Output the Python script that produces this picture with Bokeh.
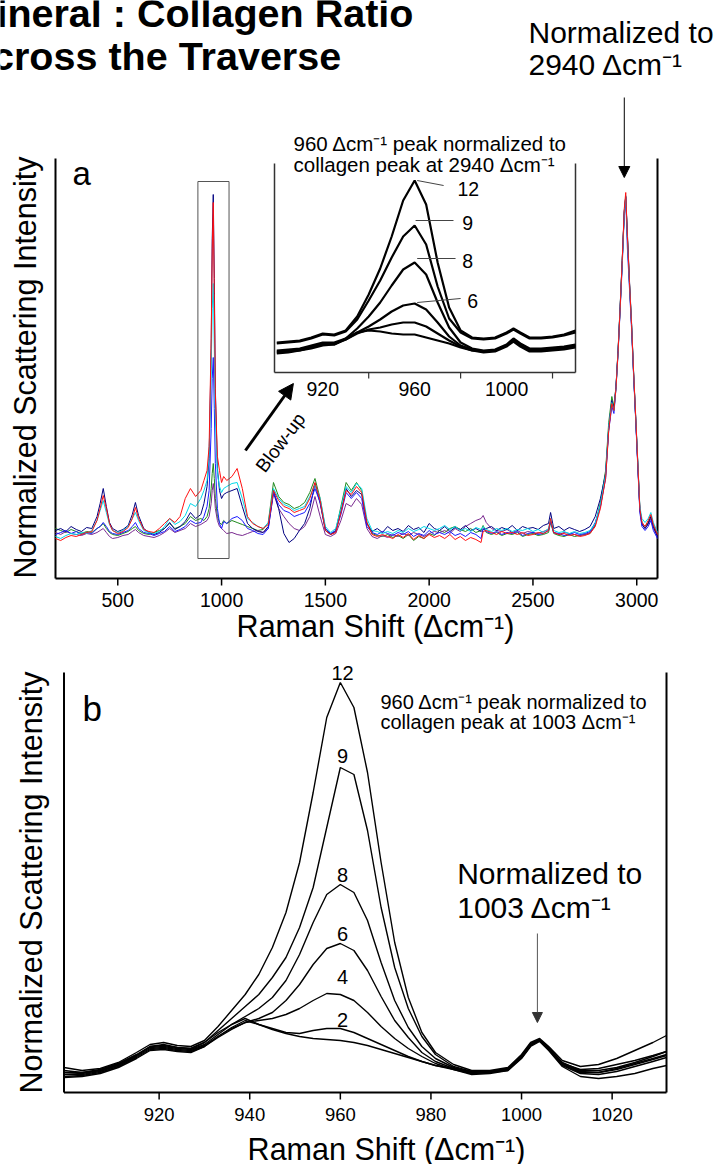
import math
from bokeh.plotting import figure
from bokeh.models import Range1d, Arrow, NormalHead
from bokeh.layouts import column
from bokeh.core.properties import value
from bokeh.embed import file_html
from bokeh.resources import INLINE

# ---------------- DATA ----------------
# Panel a: Raman shift grid (cm-1) and six spectra normalized to 2940 (arbitrary units)
XA = [200, 225, 250, 275, 300, 325, 350, 375, 400,
      415, 430, 445, 460, 475, 500, 525, 550, 570, 585, 600, 625, 650, 675,
      700, 725, 750, 775, 800, 825, 850, 875, 900,
      915, 930, 940, 950, 955, 960, 965, 970, 980, 990, 1000, 1010, 1025,
      1050, 1075, 1100, 1125, 1150, 1175, 1200, 1225, 1250, 1275,
      1300, 1325, 1350, 1375, 1400, 1425, 1450, 1475, 1500, 1525,
      1550, 1575, 1600, 1625, 1650, 1675, 1700, 1725, 1750, 1775,
      1800, 1825, 1850, 1875, 1900, 1925, 1950, 1975, 2000, 2025,
      2050, 2075, 2100, 2125, 2150, 2175, 2200, 2225, 2250,
      2260, 2275, 2300, 2325, 2350, 2375, 2400, 2425, 2450, 2475,
      2500, 2525, 2550, 2575, 2585, 2600, 2625, 2650, 2675, 2700, 2725,
      2750, 2775, 2800, 2825, 2850, 2865, 2880, 2890, 2900,
      2910, 2920, 2930, 2940, 2947, 2955, 2965, 2975, 2985, 2995, 3005, 3015, 3025, 3040, 3055, 3068, 3080, 3100]

A_NAVY = [48, 50, 47, 52, 49, 47, 51, 50, 62,
          75, 90, 72, 56, 50, 47, 49, 53, 64, 76, 63, 50, 46, 44,
          46, 50, 56, 49, 52, 57, 66, 60, 64,
          75, 92, 120, 230, 340, 384, 300, 190, 110, 88, 80, 84, 86,
          88, 90, 72, 55, 50, 47, 46, 52, 88, 70,
          45, 36, 40, 48, 55, 70, 95, 75, 48, 44,
          47, 68, 90, 82, 88, 84, 55, 47, 50, 46,
          52, 48, 50, 47, 53, 49, 51, 46, 55, 50,
          48, 52, 47, 51, 49, 53, 48, 50, 47,
          49, 50, 52, 48, 51, 49, 53, 48, 52, 50,
          51, 49, 53, 55, 66, 50, 52, 48, 51, 49, 47,
          49, 52, 62, 80, 105, 150, 178, 170, 192,
          228, 272, 318, 368, 382, 345, 298, 256, 205, 160, 115, 70, 54, 50, 55, 62, 52, 42]

A_BLUE = [44, 46, 48, 45, 47, 44, 46, 45, 50,
          52, 56, 52, 47, 45, 44, 46, 48, 52, 56, 50, 46, 45, 43,
          45, 47, 52, 47, 49, 52, 58, 55, 56,
          62, 72, 88, 150, 200, 221, 170, 115, 70, 55, 50, 57, 55,
          60, 62, 58, 50, 48, 45, 44, 50, 86, 74,
          68, 66, 62, 64, 66, 75, 90, 76, 50, 45,
          48, 64, 86, 80, 86, 80, 52, 46, 44, 47,
          45, 43, 46, 44, 47, 42, 45, 43, 48, 44,
          46, 44, 47, 43, 45, 42, 46, 44, 40,
          50, 47, 45, 47, 44, 46, 45, 47, 43, 45,
          46, 44, 45, 48, 58, 46, 45, 43, 44, 46, 44,
          45, 47, 56, 72, 100, 148, 172, 165, 190,
          225, 268, 312, 364, 380, 330, 290, 250, 202, 158, 112, 66, 52, 48, 52, 58, 48, 40]

A_CYAN = [42, 40, 43, 45, 44, 46, 45, 48, 58,
          68, 78, 66, 54, 48, 46, 48, 52, 60, 66, 58, 48, 46, 45,
          47, 52, 60, 54, 57, 63, 75, 72, 80,
          88, 98, 125, 210, 270, 295, 230, 160, 105, 92, 86, 90, 92,
          95, 96, 80, 60, 56, 52, 50, 56, 90, 80,
          74, 72, 68, 70, 72, 82, 94, 80, 52, 46,
          50, 70, 92, 86, 95, 90, 60, 48, 47, 45,
          47, 45, 48, 46, 50, 47, 49, 52, 50, 48,
          50, 53, 49, 52, 48, 50, 47, 51, 49,
          52, 49, 47, 50, 48, 50, 47, 49, 48, 50,
          47, 49, 46, 50, 60, 48, 46, 47, 45, 47, 45,
          46, 48, 55, 74, 104, 152, 176, 168, 190,
          226, 270, 316, 366, 383, 340, 295, 255, 206, 162, 118, 72, 60, 56, 60, 66, 56, 46]

A_GREEN = [50, 48, 46, 49, 47, 45, 47, 46, 50,
           52, 55, 50, 46, 44, 43, 45, 47, 50, 52, 48, 45, 44, 46,
           48, 50, 55, 50, 52, 55, 62, 58, 60,
           58, 62, 70, 90, 105, 115, 100, 80, 62, 56, 54, 58, 55,
           58, 56, 54, 52, 50, 48, 49, 56, 96, 82,
           76, 74, 70, 72, 76, 86, 100, 80, 50, 44,
           48, 72, 96, 88, 96, 88, 56, 45, 43, 42,
           44, 41, 43, 40, 44, 38, 42, 40, 45, 43,
           48, 46, 50, 52, 49, 47, 50, 46, 48,
           53, 46, 44, 46, 43, 45, 44, 46, 42, 44,
           45, 43, 44, 46, 56, 45, 43, 42, 44, 42, 43,
           44, 45, 54, 76, 108, 156, 182, 172, 192,
           228, 272, 318, 366, 381, 342, 296, 254, 204, 160, 116, 70, 56, 52, 56, 62, 52, 44]

A_RED = [40, 38, 41, 43, 42, 44, 46, 47, 58,
         70, 83, 70, 55, 48, 45, 47, 51, 60, 71, 60, 49, 47, 46,
         50, 55, 60, 56, 62, 80, 90, 82, 88,
         98, 108, 132, 240, 330, 376, 285, 185, 122, 108, 96, 102, 98,
         102, 110, 90, 62, 55, 52, 50, 54, 88, 78,
         72, 70, 66, 68, 70, 80, 96, 78, 48, 44,
         46, 66, 88, 84, 92, 86, 56, 44, 42, 44,
         42, 40, 44, 41, 45, 39, 43, 40, 44, 41,
         43, 40, 44, 39, 42, 38, 41, 39, 36,
         47, 48, 46, 44, 47, 45, 46, 44, 46, 43,
         44, 46, 45, 48, 60, 46, 44, 45, 43, 44, 42,
         43, 45, 52, 70, 100, 148, 175, 168, 190,
         226, 270, 318, 370, 386, 342, 296, 254, 206, 162, 116, 70, 56, 52, 58, 64, 54, 44]

A_PURPLE = [46, 44, 47, 45, 44, 43, 45, 44, 46,
            48, 50, 46, 42, 40, 41, 43, 44, 47, 49, 46, 43, 42, 41,
            43, 46, 50, 46, 48, 50, 55, 52, 54,
            56, 58, 62, 75, 88, 95, 85, 70, 58, 52, 50, 48, 45,
            46, 44, 43, 45, 47, 48, 46, 50, 85, 70,
            62, 55, 50, 48, 52, 62, 82, 62, 44, 42,
            45, 58, 75, 72, 80, 74, 50, 42, 40, 43,
            41, 44, 42, 45, 43, 46, 44, 42, 45, 47,
            46, 48, 45, 50, 47, 52, 55, 58, 60,
            63, 56, 50, 48, 47, 49, 46, 48, 45, 47,
            46, 45, 47, 49, 57, 46, 44, 46, 45, 44, 43,
            44, 46, 53, 72, 102, 150, 176, 168, 191,
            227, 270, 316, 367, 382, 340, 294, 252, 204, 160, 114, 68, 55, 50, 54, 60, 50, 42]

A_TICKS = [500, 1000, 1500, 2000, 2500, 3000]

# Panel a inset: blow-up of 960 peak normalized to 2940
XI = [900, 905, 910, 915, 920, 925, 930, 935, 940, 945, 950, 955, 960, 965,
      970, 975, 980, 985, 990, 995, 1000, 1003, 1006, 1010, 1015, 1020, 1025, 1030]
I_12 = [30, 31, 32, 35, 39, 38, 42, 56, 78, 104, 136, 172, 192, 168, 110, 65, 42, 35, 34, 35, 40, 44, 40, 35, 35, 36, 38, 42]
I_9 = [29, 30, 31, 34, 38, 37, 41, 53, 72, 92, 115, 136, 147, 128, 86, 54, 40, 34, 33, 34, 39, 43, 39, 34, 34, 35, 37, 40]
I_8 = [22, 23, 24, 27, 30, 30, 34, 44, 56, 70, 87, 103, 110, 98, 70, 45, 30, 24, 22, 23, 28, 34, 29, 24, 24, 25, 26, 28]
I_6 = [21, 22, 23, 26, 29, 29, 33, 40, 46, 53, 61, 67, 69, 63, 50, 36, 27, 23, 21, 22, 27, 33, 28, 23, 23, 24, 25, 27]
I_4 = [20, 21, 22, 25, 28, 28, 33, 39, 43, 45, 48, 50, 50, 46, 39, 32, 26, 22, 21, 22, 27, 32, 27, 22, 22, 23, 24, 26]
I_2 = [19, 20, 22, 24, 27, 28, 34, 40, 42, 41, 39, 38, 38, 35, 32, 29, 25, 22, 20, 21, 26, 31, 26, 21, 21, 22, 23, 25]
I_TICKS = [940, 980, 1020]
I_TICK_LABELS = [920, 960, 1000]

# Panel b: 960 peak normalized to 1003
XB = [899, 903, 907, 911, 915, 918, 921, 924, 927, 930, 933, 936, 939, 942, 945,
      948, 951, 954, 957, 960, 963, 966, 969, 972, 975, 978, 981, 985, 989, 993,
      997, 1000, 1002, 1004, 1006, 1009, 1013, 1017, 1021, 1025, 1029, 1032]
B_12 = [25, 22, 24, 30, 40, 48, 50, 47, 46, 52, 66, 82, 98, 118, 145, 180, 230, 300, 375, 410,
        385, 320, 230, 150, 95, 60, 40, 28, 22, 22, 25, 38, 50, 54, 46, 32, 26, 28, 34, 42, 50, 57]
B_9 = [22, 20, 23, 29, 38, 46, 47, 45, 44, 50, 62, 74, 86, 98, 115, 135, 165, 205, 265, 325,
       318, 262, 185, 125, 84, 56, 38, 26, 21, 21, 24, 37, 49, 53, 45, 30, 22, 22, 25, 30, 36, 41]
B_8 = [20, 19, 22, 28, 37, 45, 46, 44, 43, 48, 58, 68, 76, 84, 95, 112, 138, 170, 198, 208,
       200, 172, 130, 92, 65, 46, 34, 25, 20, 21, 24, 36, 48, 53, 44, 29, 21, 20, 23, 28, 33, 37]
B_6 = [18, 18, 21, 27, 36, 44, 45, 43, 42, 47, 56, 64, 70, 74, 80, 92, 108, 128, 144, 149,
       142, 122, 96, 72, 55, 40, 31, 24, 19, 20, 23, 35, 47, 52, 44, 28, 20, 20, 24, 29, 34, 38]
B_4 = [16, 17, 20, 26, 35, 43, 44, 42, 41, 46, 55, 63, 70, 72, 74, 78, 84, 92, 99, 98,
       92, 80, 66, 54, 44, 36, 29, 23, 18, 19, 22, 35, 47, 52, 43, 27, 19, 18, 21, 26, 31, 35]
B_2 = [15, 16, 19, 25, 34, 42, 43, 41, 40, 46, 56, 65, 72, 68, 64, 60, 59, 62, 64, 64,
       60, 54, 48, 42, 36, 31, 27, 23, 19, 20, 22, 34, 46, 51, 42, 26, 16, 14, 16, 19, 24, 27]
B_0 = [20, 20, 22, 28, 37, 46, 48, 45, 44, 50, 60, 68, 74, 68, 63, 59, 56, 54, 53, 52,
       50, 47, 43, 39, 35, 31, 27, 24, 21, 21, 23, 35, 47, 52, 43, 29, 23, 24, 28, 32, 37, 41]
B_TICKS = [920, 940, 960, 980, 1000, 1020]

# ---------------- LAYOUT CONSTANTS (pixels) ----------------
W, HA, HB = 723, 650, 514
FONT = value("Liberation Sans")

# panel a frame
A_L, A_R, A_T, A_B = 55, 657, 158, 578
XA_MIN, XA_MAX = 200, 3100
kA = (A_R - A_L) / (XA_MAX - XA_MIN)
# inset
I_L, I_R, I_T, I_B = 274, 575, 163, 372
XI_MIN, XI_MAX = 899, 1030
kI = (I_R - I_L) / (XI_MAX - XI_MIN)
# panel b frame (absolute canvas y)
B_L, B_R, B_T, B_B = 63.5, 666, 672, 1092
XB_MIN, XB_MAX = 899, 1032
kB = (B_R - B_L) / (XB_MAX - XB_MIN)


def make_fig(h, xr, yr, ex, ey):
    p = figure(width=W, height=h, x_range=xr, y_range=yr, output_backend="svg",
               toolbar_location=None, x_axis_location=None, y_axis_location=None,
               min_border=0, outline_line_color=None, title=None)
    p.extra_x_ranges = ex
    p.extra_y_ranges = ey
    p.grid.visible = False
    p.background_fill_color = "white"
    p.border_fill_color = "white"
    return p


def add_text(p, x, y, s, size, align="left", baseline="alphabetic", angle=0.0, bold=False, rng="px"):
    p.text(x=[x], y=[y], text=[s], text_font=FONT, text_font_size=value(size),
           text_align=align, text_baseline=baseline, angle=angle,
           text_font_style="bold" if bold else "normal", text_color="black",
           x_range_name=rng, y_range_name=rng)


# ---------------- PANEL A ----------------
pa = make_fig(
    HA,
    Range1d(XA_MIN - A_L / kA, XA_MAX + (W - A_R) / kA),
    Range1d(A_B - HA, A_B),
    {"px": Range1d(0, W), "inset": Range1d(XI_MIN - I_L / kI, XI_MAX + (W - I_R) / kI)},
    {"px": Range1d(HA, 0), "inset": Range1d(I_B - HA, I_B)},
)

A_TOP = A_B - A_T
# axes lines
pa.segment(x0=[XA_MIN, XA_MIN, XA_MAX], y0=[0, 0, 0], x1=[XA_MAX, XA_MIN, XA_MAX], y1=[0, A_TOP, A_TOP],
           line_color="black", line_width=2)
pa.segment(x0=A_TICKS, y0=[0] * len(A_TICKS), x1=A_TICKS, y1=[-7] * len(A_TICKS),
           line_color="black", line_width=1.5)
pa.text(x=A_TICKS, y=[-21] * len(A_TICKS), text=[str(t) for t in A_TICKS], text_font=FONT,
        text_font_size=value("19.5px"), text_align="center", text_baseline="middle", text_color="black")

# spectra
for ys, col in [(A_GREEN, "#1f8a1f"), (A_PURPLE, "#7a2a90"), (A_NAVY, "#000080"),
                (A_BLUE, "#1a1aff"), (A_CYAN, "#00d8e8"), (A_RED, "#ff1010")]:
    pa.line(XA, ys, line_color=col, line_width=1)

# box around 960 region
pa.quad(left=[886], right=[1036], bottom=[20], top=[397], fill_color=None,
        line_color="#555555", line_width=1)

# inset axes
pa.segment(x0=[XI_MIN, XI_MIN, XI_MAX], y0=[0, 0, 0], x1=[XI_MAX, XI_MIN, XI_MAX],
           y1=[0, I_B - I_T, I_B - I_T], line_color="#333333", line_width=1.5,
           x_range_name="inset", y_range_name="inset")
pa.segment(x0=I_TICKS, y0=[0] * 3, x1=I_TICKS, y1=[-6] * 3, line_color="#333333", line_width=1.2,
           x_range_name="inset", y_range_name="inset")
pa.text(x=I_TICK_LABELS, y=[-16] * 3, text=[str(t) for t in I_TICK_LABELS], text_font=FONT,
        text_font_size=value("19.5px"), text_align="center", text_baseline="middle",
        x_range_name="inset", y_range_name="inset")
for ys in [I_2, I_4, I_6, I_8, I_9, I_12]:
    pa.line(XI, ys, line_color="black", line_width=2.2, x_range_name="inset", y_range_name="inset")
# inset leader lines and labels
pa.segment(x0=[961.1, 960.4, 961.1, 961.1], y0=[192, 152, 114, 70],
           x1=[972.6, 976.9, 977.8, 980.0], y1=[187, 152, 114, 74],
           line_color="#444444", line_width=1, x_range_name="inset", y_range_name="inset")
pa.text(x=[978.6, 980.7, 980.7, 982.9], y=[184, 150, 112, 72], text=["12", "9", "8", "6"],
        text_font=FONT, text_font_size=value("19.5px"), text_align="left", text_baseline="middle",
        x_range_name="inset", y_range_name="inset")

# arrows
pa.add_layout(Arrow(end=NormalHead(size=11, fill_color="black", line_color="black"),
                    x_start=2940, y_start=A_B - 97, x_end=2940, y_end=A_B - 177,
                    line_color="black", line_width=1))
pa.add_layout(Arrow(end=NormalHead(size=15, fill_color="black", line_color="black"),
                    x_start=1115, y_start=128, x_end=1346, y_end=195,
                    line_color="black", line_width=3))

# texts (canvas pixel coordinates)
add_text(pa, -37, 12, "Mineral : Collagen Ratio", "39.5px", bold=True)
add_text(pa, -37, 55, "Across the Traverse", "39.5px", bold=True)
add_text(pa, 528, 32, "Normalized to", "30px")
add_text(pa, 528, 64, "2940 \u0394cm\u207b\u00b9", "30px")
add_text(pa, 72, 173, "a", "33px")
add_text(pa, 293, 143, "960 \u0394cm\u207b\u00b9 peak normalized to", "20.5px")
add_text(pa, 293, 164, "collagen peak at 2940 \u0394cm\u207b\u00b9", "20.5px")
add_text(pa, 280, 442, "Blow-up", "19px", align="center", baseline="middle", angle=math.radians(53))
add_text(pa, 375, 625, "Raman Shift (\u0394cm\u207b\u00b9)", "30.5px", align="center", baseline="middle")
add_text(pa, 24, 367, "Normalized Scattering Intensity", "30.5px", align="center", baseline="middle",
         angle=math.pi / 2)

# ---------------- PANEL B ----------------
pb = make_fig(
    HB,
    Range1d(XB_MIN - B_L / kB, XB_MAX + (W - B_R) / kB),
    Range1d(B_B - 1164, B_B - 650),
    {"px": Range1d(0, W)},
    {"px": Range1d(1164, 650)},
)
B_TOP = B_B - B_T
pb.segment(x0=[XB_MIN, XB_MIN, XB_MAX], y0=[0, 0, 0], x1=[XB_MAX, XB_MIN, XB_MAX], y1=[0, B_TOP, B_TOP],
           line_color="black", line_width=2)
pb.segment(x0=B_TICKS, y0=[0] * len(B_TICKS), x1=B_TICKS, y1=[-7] * len(B_TICKS),
           line_color="black", line_width=1.5)
pb.text(x=B_TICKS, y=[-22] * len(B_TICKS), text=[str(t) for t in B_TICKS], text_font=FONT,
        text_font_size=value("18.5px"), text_align="center", text_baseline="middle")

for ys in [B_0, B_2, B_4, B_6, B_8, B_9, B_12]:
    pb.line(XB, ys, line_color="black", line_width=1.4)

pb.text(x=[960.5] * 6, y=[420, 337, 218, 159, 116, 73], text=["12", "9", "8", "6", "4", "2"],
        text_font=FONT, text_font_size=value("20px"), text_align="center", text_baseline="middle")

pb.add_layout(Arrow(end=NormalHead(size=10, fill_color="#333333", line_color="#333333"),
                    x_start=1003.5, y_start=B_B - 933, x_end=1003.5, y_end=B_B - 1022,
                    line_color="#555555", line_width=1))

add_text(pb, 82, 708, "b", "35px")
add_text(pb, 380, 701.7, "960 \u0394cm\u207b\u00b9 peak normalized to", "20px")
add_text(pb, 380, 721.7, "collagen peak at 1003 \u0394cm\u207b\u00b9", "20px")
add_text(pb, 456.7, 873, "Normalized to", "30px")
add_text(pb, 456.7, 906.7, "1003 \u0394cm\u207b\u00b9", "30px")
add_text(pb, 386, 1148, "Raman Shift (\u0394cm\u207b\u00b9)", "30.5px", align="center", baseline="middle")
add_text(pb, 30, 882, "Normalized Scattering Intensity", "30.5px", align="center", baseline="middle",
         angle=math.pi / 2)

layout = column(pa, pb)
open("out.html", "w").write(file_html(layout, INLINE))
